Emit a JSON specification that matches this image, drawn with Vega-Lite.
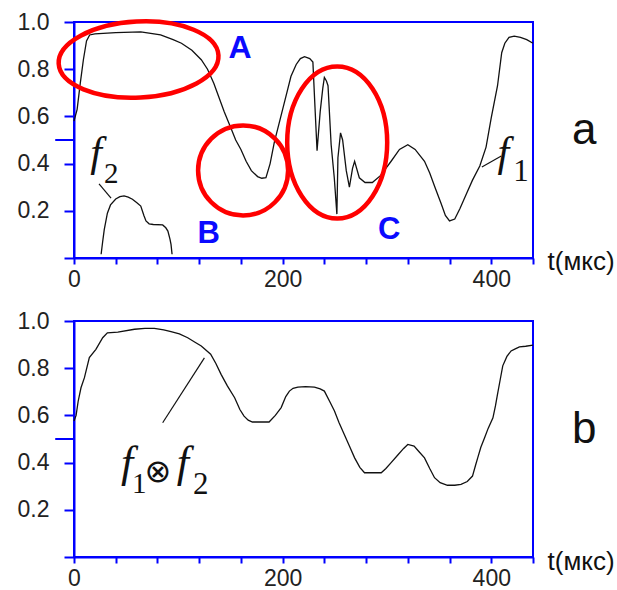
{
  "$schema": "https://vega.github.io/schema/vega-lite/v6.json",
  "padding": {"left": 16, "top": 10, "right": 0, "bottom": 0},
  "background": "white",
  "datasets": {
    "f1": [
      {"t": 0, "v": 0.58}, {"t": 3, "v": 0.63}, {"t": 6, "v": 0.74}, {"t": 9, "v": 0.84}, {"t": 12, "v": 0.92},
      {"t": 15, "v": 0.945}, {"t": 20, "v": 0.95}, {"t": 40, "v": 0.955}, {"t": 64, "v": 0.958}, {"t": 83, "v": 0.945},
      {"t": 95, "v": 0.925}, {"t": 103, "v": 0.91}, {"t": 113, "v": 0.88}, {"t": 122, "v": 0.84}, {"t": 128, "v": 0.8},
      {"t": 134, "v": 0.74}, {"t": 139, "v": 0.68}, {"t": 144, "v": 0.62}, {"t": 150, "v": 0.555}, {"t": 155, "v": 0.5},
      {"t": 160, "v": 0.46}, {"t": 165, "v": 0.41}, {"t": 170, "v": 0.37}, {"t": 176, "v": 0.345}, {"t": 180, "v": 0.338},
      {"t": 184, "v": 0.34}, {"t": 188, "v": 0.4}, {"t": 192, "v": 0.49}, {"t": 196, "v": 0.56}, {"t": 200, "v": 0.63},
      {"t": 204, "v": 0.7}, {"t": 208, "v": 0.77}, {"t": 213, "v": 0.82}, {"t": 217, "v": 0.845}, {"t": 221, "v": 0.853},
      {"t": 226, "v": 0.845}, {"t": 229, "v": 0.83}, {"t": 231, "v": 0.64}, {"t": 233, "v": 0.455}, {"t": 236, "v": 0.62},
      {"t": 238.5, "v": 0.72}, {"t": 240, "v": 0.765}, {"t": 242, "v": 0.75}, {"t": 243.5, "v": 0.73}, {"t": 246.5, "v": 0.48},
      {"t": 249.5, "v": 0.34}, {"t": 252, "v": 0.186}, {"t": 253, "v": 0.425}, {"t": 255.5, "v": 0.53}, {"t": 257.5, "v": 0.5},
      {"t": 261, "v": 0.37}, {"t": 264, "v": 0.3}, {"t": 267, "v": 0.38}, {"t": 269, "v": 0.41}, {"t": 273.5, "v": 0.34},
      {"t": 279, "v": 0.32}, {"t": 286, "v": 0.32}, {"t": 294, "v": 0.35}, {"t": 304, "v": 0.41}, {"t": 312, "v": 0.46},
      {"t": 320, "v": 0.48}, {"t": 327, "v": 0.46}, {"t": 336, "v": 0.41}, {"t": 341, "v": 0.36}, {"t": 346, "v": 0.3},
      {"t": 352, "v": 0.23}, {"t": 356, "v": 0.18}, {"t": 360, "v": 0.157}, {"t": 365, "v": 0.165}, {"t": 370, "v": 0.21},
      {"t": 376, "v": 0.27}, {"t": 382, "v": 0.33}, {"t": 389, "v": 0.39}, {"t": 395, "v": 0.47}, {"t": 400, "v": 0.595},
      {"t": 406, "v": 0.73}, {"t": 410, "v": 0.87}, {"t": 413, "v": 0.91}, {"t": 417, "v": 0.935}, {"t": 422, "v": 0.94},
      {"t": 428, "v": 0.935}, {"t": 434, "v": 0.925}, {"t": 440, "v": 0.91}
    ],
    "f2": [
      {"t": 26, "v": 0.016}, {"t": 27.5, "v": 0.07}, {"t": 29, "v": 0.12}, {"t": 32, "v": 0.19}, {"t": 35, "v": 0.225},
      {"t": 40, "v": 0.25}, {"t": 44, "v": 0.26}, {"t": 48, "v": 0.263}, {"t": 52, "v": 0.258}, {"t": 56, "v": 0.249},
      {"t": 60, "v": 0.235}, {"t": 64, "v": 0.22}, {"t": 67, "v": 0.18}, {"t": 69, "v": 0.157}, {"t": 72, "v": 0.145},
      {"t": 76, "v": 0.142}, {"t": 85, "v": 0.14}, {"t": 88, "v": 0.128}, {"t": 90, "v": 0.114}, {"t": 92, "v": 0.08},
      {"t": 93, "v": 0.058}, {"t": 94, "v": 0.016}
    ],
    "fb": [
      {"t": 0, "v": 0.576}, {"t": 2, "v": 0.6}, {"t": 4, "v": 0.66}, {"t": 6.7, "v": 0.717}, {"t": 10, "v": 0.76},
      {"t": 14.7, "v": 0.845}, {"t": 21, "v": 0.88}, {"t": 27.5, "v": 0.929}, {"t": 32, "v": 0.95}, {"t": 42, "v": 0.953},
      {"t": 58, "v": 0.965}, {"t": 68, "v": 0.969}, {"t": 77, "v": 0.969}, {"t": 86, "v": 0.962}, {"t": 93, "v": 0.955},
      {"t": 101, "v": 0.945}, {"t": 109, "v": 0.929}, {"t": 116, "v": 0.91}, {"t": 122, "v": 0.894}, {"t": 131, "v": 0.859},
      {"t": 136, "v": 0.82}, {"t": 141, "v": 0.774}, {"t": 147, "v": 0.725}, {"t": 154, "v": 0.675}, {"t": 159, "v": 0.625},
      {"t": 163, "v": 0.597}, {"t": 167, "v": 0.58}, {"t": 171, "v": 0.572}, {"t": 180, "v": 0.572}, {"t": 187, "v": 0.572},
      {"t": 193, "v": 0.6}, {"t": 198.6, "v": 0.633}, {"t": 203, "v": 0.68}, {"t": 206.5, "v": 0.703}, {"t": 210, "v": 0.715},
      {"t": 214.6, "v": 0.72}, {"t": 222, "v": 0.722}, {"t": 230.5, "v": 0.72}, {"t": 236, "v": 0.712}, {"t": 240, "v": 0.703},
      {"t": 245, "v": 0.66}, {"t": 249.7, "v": 0.619}, {"t": 254, "v": 0.57}, {"t": 259, "v": 0.52}, {"t": 264, "v": 0.47},
      {"t": 269, "v": 0.42}, {"t": 274, "v": 0.38}, {"t": 278.5, "v": 0.357}, {"t": 286, "v": 0.357}, {"t": 294.5, "v": 0.357},
      {"t": 299, "v": 0.375}, {"t": 304, "v": 0.4}, {"t": 310, "v": 0.43}, {"t": 316, "v": 0.46}, {"t": 320, "v": 0.477},
      {"t": 326, "v": 0.47}, {"t": 331, "v": 0.445}, {"t": 336, "v": 0.42}, {"t": 341, "v": 0.375}, {"t": 345.6, "v": 0.336},
      {"t": 351, "v": 0.315}, {"t": 358, "v": 0.304}, {"t": 365, "v": 0.304}, {"t": 371, "v": 0.308}, {"t": 377, "v": 0.32},
      {"t": 382, "v": 0.343}, {"t": 385, "v": 0.39}, {"t": 387, "v": 0.42}, {"t": 390, "v": 0.465}, {"t": 393.6, "v": 0.505},
      {"t": 397, "v": 0.545}, {"t": 401.6, "v": 0.59}, {"t": 404, "v": 0.64}, {"t": 406, "v": 0.69}, {"t": 408.5, "v": 0.75},
      {"t": 411, "v": 0.81}, {"t": 415, "v": 0.85}, {"t": 419, "v": 0.873}, {"t": 423, "v": 0.882}, {"t": 427, "v": 0.89},
      {"t": 433, "v": 0.893}, {"t": 440, "v": 0.898}
    ],
    "one": [{}]
  },
  "config": {
    "view": {"stroke": "#0000ff", "strokeWidth": 2},
    "axis": {
      "domainColor": "#0000ff", "domainWidth": 2, "tickColor": "#0000ff", "tickWidth": 2,
      "labelFont": "Liberation Sans", "labelFontSize": 23, "labelColor": "#222", "grid": false
    },
    "axisX": {"tickSize": 6, "labelPadding": 4, "labelFlush": false, "labelOverlap": false},
    "axisY": {"tickSize": 10, "labelPadding": 15, "labelOverlap": false}
  },
  "spacing": 63,
  "bounds": "flush",
  "vconcat": [
    {
      "width": 459, "height": 236,
      "layer": [
        {
          "data": {"name": "f1"},
          "mark": {"type": "line", "color": "#111", "strokeWidth": 1.3},
          "encoding": {
            "x": {"field": "t", "type": "quantitative", "scale": {"domain": [0, 440], "nice": false},
                  "axis": {"title": null, "values": [0, 40, 80, 120, 160, 200, 240, 280, 320, 360, 400, 440], "labelExpr": "datum.value % 200 == 0 ? datum.label : ''"}},
            "y": {"field": "v", "type": "quantitative", "scale": {"domain": [0, 1], "nice": false},
                  "axis": {"title": null, "values": [0, 0.1, 0.2, 0.3, 0.4, 0.5, 0.6, 0.7, 0.8, 0.9, 1], "labelExpr": "datum.value > 0.05 && round(datum.value * 10) % 2 == 0 ? format(datum.value, '.1f') : ''"}}
          }
        },
        {
          "data": {"name": "f2"},
          "mark": {"type": "line", "color": "#111", "strokeWidth": 1.3},
          "encoding": {"x": {"field": "t", "type": "quantitative"}, "y": {"field": "v", "type": "quantitative"}}
        },
        {
          "data": {"name": "one"},
          "mark": {"type": "rule", "color": "#0000ff", "strokeWidth": 2},
          "encoding": {"x": {"datum": -18}, "x2": {"datum": 0}, "y": {"datum": 0.5}}
        },
        {
          "data": {"name": "one"},
          "mark": {"type": "point", "shape": "M -80 0 A 80 38 0 1 0 80 0 A 80 38 0 1 0 -80 0 Z", "size": 4, "filled": false, "stroke": "#ff0000", "strokeWidth": 4.5, "opacity": 1, "angle": -3},
          "encoding": {"x": {"datum": 61.9}, "y": {"datum": 0.841}}
        },
        {
          "data": {"name": "one"},
          "mark": {"type": "point", "shape": "M -45 0 A 45 45 0 1 0 45 0 A 45 45 0 1 0 -45 0 Z", "size": 4, "filled": false, "stroke": "#ff0000", "strokeWidth": 4.5, "opacity": 1},
          "encoding": {"x": {"datum": 162.1}, "y": {"datum": 0.371}}
        },
        {
          "data": {"name": "one"},
          "mark": {"type": "point", "shape": "M -50 0 A 50 76 0 1 0 50 0 A 50 76 0 1 0 -50 0 Z", "size": 4, "filled": false, "stroke": "#ff0000", "strokeWidth": 4.5, "opacity": 1},
          "encoding": {"x": {"datum": 252.3}, "y": {"datum": 0.489}}
        },
        {
          "data": {"name": "one"},
          "mark": {"type": "rule", "color": "#111", "strokeWidth": 1.2},
          "encoding": {"x": {"datum": 24}, "y": {"datum": 0.314}, "x2": {"datum": 35.5}, "y2": {"datum": 0.254}}
        },
        {
          "data": {"name": "one"},
          "mark": {"type": "rule", "color": "#111", "strokeWidth": 1.2},
          "encoding": {"x": {"datum": 391}, "y": {"datum": 0.386}, "x2": {"datum": 409.6}, "y2": {"datum": 0.432}}
        },
        {
          "data": {"name": "one"},
          "mark": {"type": "text", "text": "A", "font": "Liberation Sans", "fontWeight": "bold", "fontSize": 32, "color": "#0a0aff", "align": "center", "baseline": "alphabetic"},
          "encoding": {"x": {"datum": 159.2}, "y": {"datum": 0.847}}
        },
        {
          "data": {"name": "one"},
          "mark": {"type": "text", "text": "B", "font": "Liberation Sans", "fontWeight": "bold", "fontSize": 31, "color": "#0a0aff", "align": "center", "baseline": "alphabetic"},
          "encoding": {"x": {"datum": 129}, "y": {"datum": 0.064}}
        },
        {
          "data": {"name": "one"},
          "mark": {"type": "text", "text": "C", "font": "Liberation Sans", "fontWeight": "bold", "fontSize": 31, "color": "#0a0aff", "align": "center", "baseline": "alphabetic"},
          "encoding": {"x": {"datum": 302.2}, "y": {"datum": 0.081}}
        },
        {
          "data": {"name": "one"},
          "mark": {"type": "text", "text": "a", "font": "Liberation Sans", "fontSize": 44, "color": "#111", "align": "center", "baseline": "alphabetic"},
          "encoding": {"x": {"datum": 489.2}, "y": {"datum": 0.483}}
        },
        {
          "data": {"name": "one"},
          "mark": {"type": "text", "text": "t(мкс)", "font": "Liberation Sans", "fontSize": 26, "color": "#111", "align": "left", "baseline": "alphabetic"},
          "encoding": {"x": {"datum": 454}, "y": {"datum": -0.051}}
        },
        {
          "data": {"name": "one"},
          "mark": {"type": "text", "text": "f", "font": "Liberation Serif", "fontStyle": "italic", "fontSize": 42, "color": "#111", "align": "left", "baseline": "alphabetic"},
          "encoding": {"x": {"datum": 15.5}, "y": {"datum": 0.39}}
        },
        {
          "data": {"name": "one"},
          "mark": {"type": "text", "text": "2", "font": "Liberation Serif", "fontSize": 29, "color": "#111", "align": "left", "baseline": "alphabetic"},
          "encoding": {"x": {"datum": 28.8}, "y": {"datum": 0.318}}
        },
        {
          "data": {"name": "one"},
          "mark": {"type": "text", "text": "f", "font": "Liberation Serif", "fontStyle": "italic", "fontSize": 42, "color": "#111", "align": "left", "baseline": "alphabetic"},
          "encoding": {"x": {"datum": 406}, "y": {"datum": 0.39}}
        },
        {
          "data": {"name": "one"},
          "mark": {"type": "text", "text": "1", "font": "Liberation Serif", "fontSize": 31, "color": "#111", "align": "left", "baseline": "alphabetic"},
          "encoding": {"x": {"datum": 421.1}, "y": {"datum": 0.326}}
        }
      ]
    },
    {
      "width": 459, "height": 236,
      "layer": [
        {
          "data": {"name": "fb"},
          "mark": {"type": "line", "color": "#111", "strokeWidth": 1.3},
          "encoding": {
            "x": {"field": "t", "type": "quantitative", "scale": {"domain": [0, 440], "nice": false},
                  "axis": {"title": null, "values": [0, 40, 80, 120, 160, 200, 240, 280, 320, 360, 400, 440], "labelExpr": "datum.value % 200 == 0 ? datum.label : ''"}},
            "y": {"field": "v", "type": "quantitative", "scale": {"domain": [0, 1], "nice": false},
                  "axis": {"title": null, "values": [0, 0.1, 0.2, 0.3, 0.4, 0.5, 0.6, 0.7, 0.8, 0.9, 1], "labelExpr": "datum.value > 0.05 && round(datum.value * 10) % 2 == 0 ? format(datum.value, '.1f') : ''"}}
          }
        },
        {
          "data": {"name": "one"},
          "mark": {"type": "rule", "color": "#0000ff", "strokeWidth": 2},
          "encoding": {"x": {"datum": -18}, "x2": {"datum": 0}, "y": {"datum": 0.5}}
        },
        {
          "data": {"name": "one"},
          "mark": {"type": "rule", "color": "#111", "strokeWidth": 1.2},
          "encoding": {"x": {"datum": 85}, "y": {"datum": 0.569}, "x2": {"datum": 125}, "y2": {"datum": 0.844}}
        },
        {
          "data": {"name": "one"},
          "mark": {"type": "text", "text": "f", "font": "Liberation Serif", "fontStyle": "italic", "fontSize": 44, "color": "#111", "align": "left", "baseline": "alphabetic"},
          "encoding": {"x": {"datum": 45}, "y": {"datum": 0.339}}
        },
        {
          "data": {"name": "one"},
          "mark": {"type": "text", "text": "1", "font": "Liberation Serif", "fontSize": 29, "color": "#111", "align": "left", "baseline": "alphabetic"},
          "encoding": {"x": {"datum": 55.5}, "y": {"datum": 0.271}}
        },
        {
          "data": {"name": "one"},
          "mark": {"type": "text", "text": "⊗", "font": "DejaVu Sans", "fontSize": 32, "color": "#111", "align": "center", "baseline": "alphabetic"},
          "encoding": {"x": {"datum": 80.5}, "y": {"datum": 0.318}}
        },
        {
          "data": {"name": "one"},
          "mark": {"type": "text", "text": "f", "font": "Liberation Serif", "fontStyle": "italic", "fontSize": 44, "color": "#111", "align": "left", "baseline": "alphabetic"},
          "encoding": {"x": {"datum": 98.5}, "y": {"datum": 0.339}}
        },
        {
          "data": {"name": "one"},
          "mark": {"type": "text", "text": "2", "font": "Liberation Serif", "fontSize": 31, "color": "#111", "align": "left", "baseline": "alphabetic"},
          "encoding": {"x": {"datum": 114.1}, "y": {"datum": 0.267}}
        },
        {
          "data": {"name": "one"},
          "mark": {"type": "text", "text": "b", "font": "Liberation Sans", "fontSize": 44, "color": "#111", "align": "center", "baseline": "alphabetic"},
          "encoding": {"x": {"datum": 489.2}, "y": {"datum": 0.483}}
        },
        {
          "data": {"name": "one"},
          "mark": {"type": "text", "text": "t(мкс)", "font": "Liberation Sans", "fontSize": 26, "color": "#111", "align": "left", "baseline": "alphabetic"},
          "encoding": {"x": {"datum": 454}, "y": {"datum": -0.055}}
        }
      ]
    }
  ]
}
